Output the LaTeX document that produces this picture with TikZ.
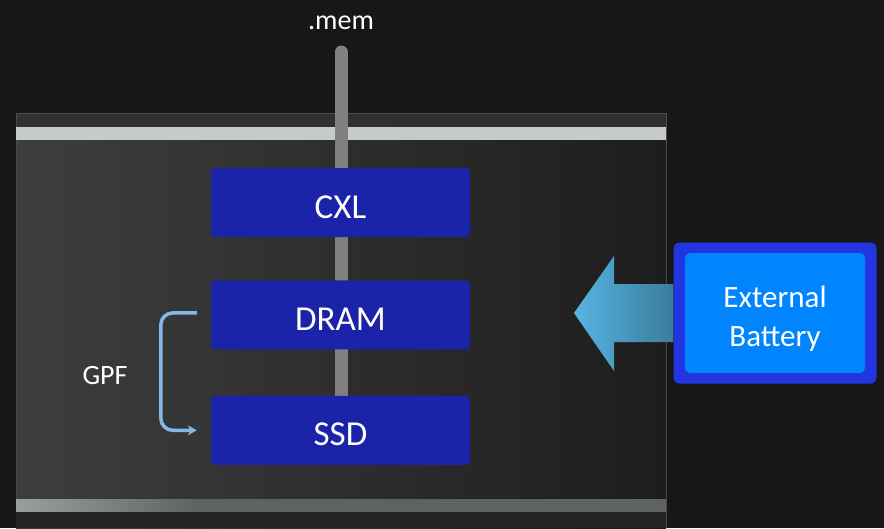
\documentclass[tikz,border=0pt]{standalone}
\usepackage{fontspec}
\setmainfont{Carlito}
\usetikzlibrary{positioning,arrows.meta}

\definecolor{bgdark}{HTML}{171717}
\definecolor{glassL}{HTML}{3E3E3E}
\definecolor{glassR}{HTML}{1D1D1D}
\definecolor{glasstop}{HTML}{2E2E2E}
\definecolor{glassfoot}{HTML}{242424}
\definecolor{barlight}{HTML}{C6CACA}
\definecolor{barlow}{HTML}{5E6260}
\definecolor{barhigh}{HTML}{9A9E9C}
\definecolor{busgray}{HTML}{808080}
\definecolor{chipblue}{HTML}{1B24A8}
\definecolor{batedge}{HTML}{2335E0}
\definecolor{batfill}{HTML}{0085FF}
\definecolor{arrowL}{HTML}{57B4E2}
\definecolor{arrowR}{HTML}{3A7C9C}
\definecolor{gpfline}{HTML}{86B8E6}

\tikzset{
  chip/.style={fill=chipblue, rounded corners=4pt, minimum width=259pt, minimum height=69pt,
    inner sep=0pt, text=white, font=\fontsize{35}{37}\selectfont, text height=31pt, text depth=0pt},
  label/.style={text=white, font=\fontsize{28}{30}\selectfont},
}

\begin{document}
\begin{tikzpicture}[x=1pt, y=-1pt]
\useasboundingbox (0,0) rectangle (884,528);
\fill[bgdark] (0,0) rectangle (884,528);

% glass panel
\shade[left color=glassL, right color=glassR] (16,113) rectangle (666,528);
\shade[left color=glassL!80!black, right color=glasstop] (16,113) rectangle (666,127);
\draw[gray!60!black, line width=1pt] (16,528) -- (16,113) -- (666,113) -- (666,528);
\fill[barlight] (16,127) rectangle (666,140);
\shade[left color=barhigh, right color=barlow] (16,499) rectangle (200,512);
\fill[barlow] (200,499) rectangle (666,512);
\fill[glassfoot] (16,512) rectangle (666,528);

% memory bus
\coordinate (memtop) at (341,52);
\node[label] (mem) at (341,23) {.mem};
\draw[busgray, line width=13pt, line cap=round] (memtop) -- (341,420);

% modules
\node[chip] (cxl) at (340.5,202.5) {CXL};
\node[chip, below=43pt of cxl] (dram) {DRAM};
\node[chip, below=46pt of dram] (ssd) {SSD};

% GPF flush
\draw[gpfline, line width=3.5pt, rounded corners=12pt, -{Stealth[length=9pt,width=10pt]}]
  ([xshift=-14pt, yshift=2pt]dram.west) -- ++(-36,0) |- ([xshift=-14pt]ssd.west);
\node[label] (gpf) at (105,376) {GPF};

% battery
\node[fill=batedge, rounded corners=6pt, minimum width=203pt, minimum height=141pt] (battery) at (775,313) {};
\node[fill=batfill, rounded corners=5pt, minimum width=180pt, minimum height=120pt] (batin) at (battery.center) {};
\node[align=center, text=white, font=\fontsize{31}{39}\selectfont] (batlbl)
  at ([yshift=-6pt]batin.center) {External\\Battery};

% supply arrow
\shade[left color=arrowL, right color=arrowR]
  ([yshift=29pt]battery.west) -- (614,284) -- (614,256) -- (574,313) -- (614,371) -- (614,342)
  -- ([yshift=-29pt]battery.west) -- cycle;
\end{tikzpicture}
\end{document}
